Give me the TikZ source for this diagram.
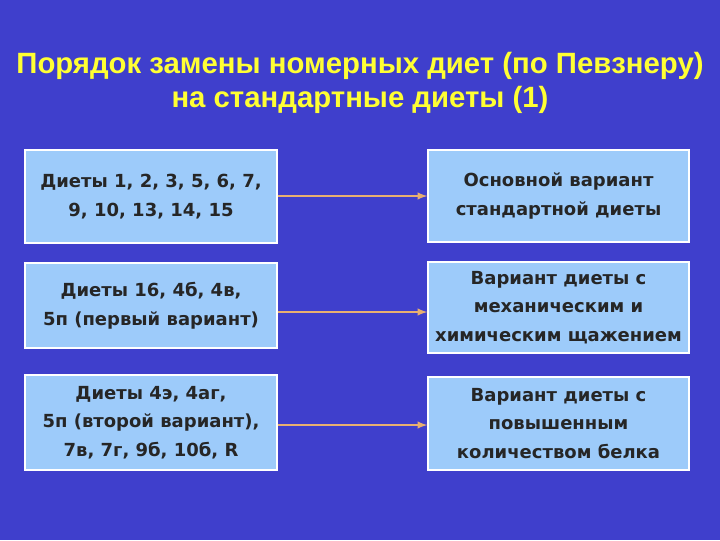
\documentclass[tikz,border=0pt]{standalone}
\usepackage{fontspec}
\setmainfont{Liberation Sans}
\newfontfamily\boxfont{DejaVu Sans}
\begin{document}
\begin{tikzpicture}[x=0.75pt,y=-0.75pt,
 box/.style={draw=white,line width=1pt,fill=boxblue,text=black!85,font=\boxfont\bfseries\fontsize{13.5}{21.5}\selectfont,align=center,inner sep=0pt},
 conn/.style={draw=arrowc,line width=1.5pt,-latex}]
\definecolor{bg}{HTML}{3F3FCC}
\definecolor{boxblue}{HTML}{9DCBFA}
\definecolor{arrowc}{HTML}{E8B070}
\definecolor{ttl}{HTML}{FFFF33}
\fill[bg] (0,0) rectangle (720,540);
\node[text=ttl,font=\bfseries\fontsize{22}{25.5}\selectfont,align=center] (t) at (360,83) {Порядок замены номерных диет (по Певзнеру)\\на стандартные диеты (1)};
\node[box,minimum width=252*0.75pt,minimum height=93*0.75pt] (l1) at (151,196.5) {Диеты 1, 2, 3, 5, 6, 7,\\9, 10, 13, 14, 15};
\node[box,minimum width=252*0.75pt,minimum height=85*0.75pt] (l2) at (151,305.5) {Диеты 16, 4б, 4в,\\5п (первый вариант)};
\node[box,minimum width=252*0.75pt,minimum height=95*0.75pt] (l3) at (151,422.5) {Диеты 4э, 4аг,\\5п (второй вариант),\\7в, 7г, 9б, 10б, R};
\node[box,minimum width=261*0.75pt,minimum height=92*0.75pt] (r1) at (558.5,196) {Основной вариант\\стандартной диеты};
\node[box,minimum width=261*0.75pt,minimum height=91*0.75pt] (r2) at (558.5,307.5) {Вариант диеты с\\механическим и\\химическим щажением};
\node[box,minimum width=261*0.75pt,minimum height=93*0.75pt] (r3) at (558.5,423.5) {Вариант диеты с\\повышенным\\количеством белка};
\draw[conn] (l1.east|-0,196) -- (r1.west|-0,196);
\draw[conn] (l2.east|-0,312) -- (r2.west|-0,312);
\draw[conn] (l3.east|-0,425) -- (r3.west|-0,425);
\end{tikzpicture}
\end{document}
